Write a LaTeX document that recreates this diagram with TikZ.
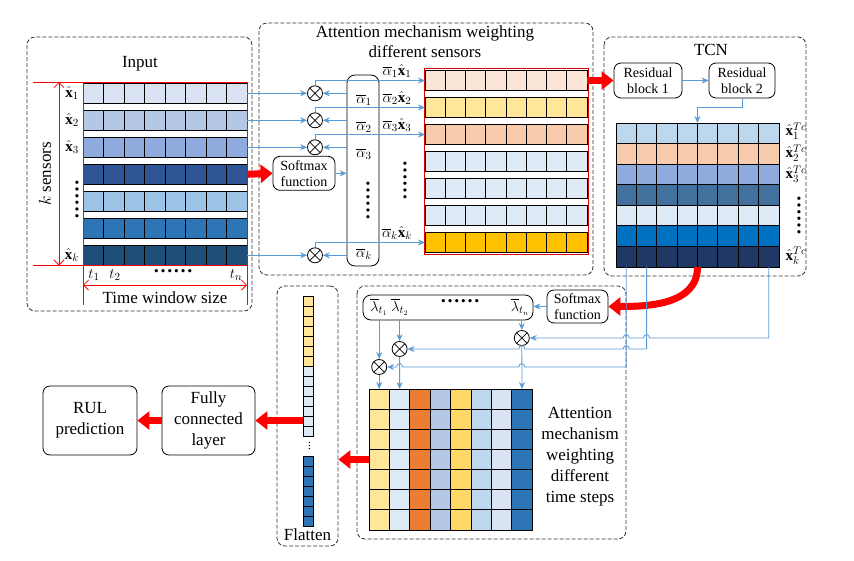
\documentclass[tikz,border=0pt]{standalone}
\usepackage{amsmath}
\usepackage{fontspec}
\setmainfont{Liberation Serif}
\usetikzlibrary{arrows.meta}

\definecolor{lineblue}{HTML}{5B9BD5}
\definecolor{arrred}{HTML}{FF0000}
\definecolor{inA}{HTML}{DAE3F3}
\definecolor{inB}{HTML}{B4C7E7}
\definecolor{inC}{HTML}{8FAADC}
\definecolor{inD}{HTML}{2F5597}
\definecolor{inE}{HTML}{9DC3E6}
\definecolor{inF}{HTML}{2E75B6}
\definecolor{inG}{HTML}{1F4E79}
\definecolor{wA}{HTML}{FBE5D6}
\definecolor{wB}{HTML}{FFE699}
\definecolor{wC}{HTML}{F8CBAD}
\definecolor{wD}{HTML}{DEEBF7}
\definecolor{wG}{HTML}{FFC000}
\definecolor{tA}{HTML}{BDD7EE}
\definecolor{tB}{HTML}{F8CBAD}
\definecolor{tC}{HTML}{8FAADC}
\definecolor{tD}{HTML}{41719C}
\definecolor{tE}{HTML}{DEEBF7}
\definecolor{tF}{HTML}{0070C0}
\definecolor{tG}{HTML}{203864}
\definecolor{cA}{HTML}{FFE699}
\definecolor{cB}{HTML}{DEEBF7}
\definecolor{cC}{HTML}{ED7D31}
\definecolor{cD}{HTML}{B4C7E7}
\definecolor{cE}{HTML}{FFD966}
\definecolor{cF}{HTML}{BDD7EE}
\definecolor{cG}{HTML}{DAE3F3}
\definecolor{cH}{HTML}{2E75B6}

\tikzset{
  grp/.style={draw=black!80, dash pattern=on 4pt off 2pt, rounded corners=8pt, line width=0.8pt},
  blk/.style={draw, rounded corners=7pt, align=center, inner sep=2pt, line width=0.8pt},
  smallblk/.style={blk, font=\fontsize{14}{16}\selectfont},
  cellrow/.style={draw, inner sep=0pt, outer sep=0pt, minimum height=20pt, line width=0.8pt},
  cellln/.style={line width=0.8pt},
  mult/.style={circle, draw, inner sep=0pt, minimum size=15pt, line width=0.8pt,
    path picture={\draw[line width=0.7pt] (path picture bounding box.south west) -- (path picture bounding box.north east)
      (path picture bounding box.north west) -- (path picture bounding box.south east);}},
  lbl/.style={font=\fontsize{15}{16}\selectfont, inner sep=0pt},
  dotlbl/.style={font=\fontsize{20}{20}\selectfont\bfseries, inner sep=0pt},
  bluearr/.style={draw=lineblue, line width=0.8pt, -{Stealth[length=7pt,width=6pt]}},
  redarr/.style={draw=arrred, line width=7pt, -{Triangle[length=12pt,width=18pt]}},
  redln/.style={draw=arrred, line width=0.8pt},
}

\begin{document}
\begin{tikzpicture}[x=1pt, y=-1pt, font=\fontsize{17}{20}\selectfont]
  \useasboundingbox (0,0) rectangle (854,560);

  % input window
  \draw[grp] (27,37) rectangle (252,311);
  \node (inputlbl) at (140,64) {Input};
  \foreach \col [count=\r] in {inA,inB,inC,inD,inE,inF,inG} {
    \pgfmathsetmacro{\yc}{93.3+27*(\r-1)}
    \node[cellrow, fill=\col, minimum width=164pt] (in\r) at (165,\yc) {};
    \foreach \k in {1,...,7}
      \draw[cellln] (83+20.5*\k,\yc-10) -- (83+20.5*\k,\yc+10);
  }
  \draw[redln] (33,82) -- (248,82);
  \draw[redln] (33,265.5) -- (248,265.5);
  \draw[redln] (83,82) -- (83,305);
  \draw[redln] (247,82) -- (247,305);
  \draw[redln, {Straight Barb[length=5pt]}-{Straight Barb[length=5pt]}] (59,82) -- (59,265.5);
  \draw[redln, {Straight Barb[length=5pt]}-{Straight Barb[length=5pt]}] (83,285) -- (247,285);
  \node[rotate=90] (ksens) at (45,174) {$k$ sensors};
  \node (twin) at (165,298) {Time window size};
  \node[lbl] (xh1) at (72,93) {$\hat{\mathbf{x}}_1$};
  \node[lbl] (xh2) at (72,120) {$\hat{\mathbf{x}}_2$};
  \node[lbl] (xh3) at (72,147) {$\hat{\mathbf{x}}_3$};
  \node[dotlbl, rotate=90] (xhdots) at (77,199) {……};
  \node[lbl] (xhk) at (72,255) {$\hat{\mathbf{x}}_k$};
  \node[lbl] (t1) at (94,275) {$t_1$};
  \node[lbl] (t2) at (115,275) {$t_2$};
  \node[dotlbl] (tdots) at (173,271) {……};
  \node[lbl] (tn) at (236,275) {$t_n$};

  % attention over sensors
  \draw[grp] (259,23) rectangle (593,275);
  \node[align=center] (att1lbl) at (425,42) {Attention mechanism weighting\\different sensors};
  \node[mult] (m1) at (315,93.3) {};
  \node[mult] (m2) at (315,120.3) {};
  \node[mult] (m3) at (315,147.3) {};
  \node[mult] (mk) at (315,255.3) {};
  \node[draw, rounded corners=8pt, minimum width=32pt, minimum height=191pt, line width=0.8pt] (abox) at (363,170.5) {};
  \node[lbl] (a1) at (364,100) {$\overline{\alpha}_1$};
  \node[lbl] (a2) at (364,127) {$\overline{\alpha}_2$};
  \node[lbl] (a3) at (364,154) {$\overline{\alpha}_3$};
  \node[dotlbl, rotate=90] (adots) at (368,200) {……};
  \node[lbl] (ak) at (364,254) {$\overline{\alpha}_k$};
  \node[smallblk, minimum width=62pt, minimum height=34pt] (sm1) at (304,173.3) {Softmax\\function};
  \foreach \r/\m in {1/m1,2/m2,3/m3,7/mk} {
    \draw[bluearr] (in\r.east) -- (\m.west);
    \draw[bluearr] (\m -| abox.west) -- (\m.east);
  }
  \draw[redarr] (in4.east) -- (sm1.west);
  \draw[bluearr] (sm1.east) -- (sm1.east -| abox.west);
  \foreach \col [count=\r] in {wA,wB,wC,wD,wD,wD,wG} {
    \pgfmathsetmacro{\yc}{80.5+27*(\r-1)}
    \node[cellrow, fill=\col, minimum width=162pt] (w\r) at (506,\yc) {};
    \foreach \k in {1,...,7}
      \draw[cellln] (425+20.25*\k,\yc-10) -- (425+20.25*\k,\yc+10);
  }
  \draw[red!85!black, line width=1pt] (424,68) rectangle (588,254);
  \foreach \m/\r in {m1/1,m2/2,m3/3,mk/7}
    \draw[bluearr] (\m.north) |- (w\r.west);
  \node[lbl] (aw1) at (397,71) {$\overline{\alpha}_1\hat{\mathbf{x}}_1$};
  \node[lbl] (aw2) at (397,98) {$\overline{\alpha}_2\hat{\mathbf{x}}_2$};
  \node[lbl] (aw3) at (397,125) {$\overline{\alpha}_3\hat{\mathbf{x}}_3$};
  \node[dotlbl, rotate=90] (awdots) at (405,180) {……};
  \node[lbl] (awk) at (397,233) {$\overline{\alpha}_k\hat{\mathbf{x}}_k$};

  % TCN
  \draw[grp] (604,37) rectangle (806,276);
  \node (tcnlbl) at (711,50) {TCN};
  \node[smallblk, minimum width=68pt, minimum height=35pt] (res1) at (648,80.5) {Residual\\block 1};
  \node[smallblk, minimum width=66pt, minimum height=35pt] (res2) at (742,80.5) {Residual\\block 2};
  \draw[redarr] (w1.east) -- (res1.west);
  \draw[bluearr] (res1.east) -- (res2.west);
  \foreach \col [count=\r] in {tA,tB,tC,tD,tE,tF,tG} {
    \pgfmathsetmacro{\yc}{133.3+20.57*(\r-1)}
    \node[cellrow, fill=\col, minimum width=163pt, minimum height=20.57pt] (tc\r) at (697.5,\yc) {};
    \foreach \k in {1,...,7}
      \draw[cellln] (616+20.375*\k,\yc-10.28) -- (616+20.375*\k,\yc+10.28);
  }
  \draw[bluearr] (res2.south) -- ++(0,9) -| (tc1.north);
  \node[lbl] (xt1) at (796,131) {$\hat{\mathbf{x}}_1^{Tc}$};
  \node[lbl] (xt2) at (796,153) {$\hat{\mathbf{x}}_2^{Tc}$};
  \node[lbl] (xt3) at (796,174) {$\hat{\mathbf{x}}_3^{Tc}$};
  \node[dotlbl, rotate=90] (xtdots) at (799,215) {……};
  \node[lbl] (xtk) at (796,256) {$\hat{\mathbf{x}}_k^{Tc}$};
  \coordinate (tb1) at (626.2,267);
  \coordinate (tb2) at (646.6,267);
  \coordinate (tb8) at (768.8,267);

  % attention over time steps
  \draw[grp] (357,286) rectangle (626,539);
  \node[draw, rounded corners=8pt, minimum width=170pt, minimum height=25pt, line width=0.8pt] (lbox) at (448,307.5) {};
  \node[lbl] (l1) at (379,307) {$\overline{\lambda}_{t_1}$};
  \node[lbl] (l2) at (400,307) {$\overline{\lambda}_{t_2}$};
  \node[dotlbl] (ldots) at (460,301) {……};
  \node[lbl] (ln) at (520,307) {$\overline{\lambda}_{t_n}$};
  \node[smallblk, minimum width=61pt, minimum height=33pt] (sm2) at (577.5,306.5) {Softmax\\function};
  \draw[redarr] (tb2 -| tc4.south) to[out=-90, in=0] (sm2.east);
  \draw[bluearr] (sm2.west) -- (sm2.west -| lbox.east);
  \node[mult] (q1) at (379.2,367) {};
  \node[mult] (q2) at (399.6,349) {};
  \node[mult] (qn) at (521.8,338) {};
  \foreach \col [count=\c] in {cA,cB,cC,cD,cE,cF,cG,cH}
    \node[cellrow, fill=\col, minimum width=20.4pt, minimum height=141pt] (col\c) at (369+20.4*\c-10.2,459.5) {};
  \foreach \k in {1,...,6}
    \draw[cellln] (369,389+20.14*\k) -- (532,389+20.14*\k);
  \foreach \q/\c in {q1/1,q2/2,qn/8} {
    \draw[bluearr] (\q |- lbox.south) -- (\q.north);
    \draw[bluearr] (\q.south) -- (col\c.north);
  }
  \draw[bluearr] (tb8) -- (768.8,338) -- (649.6,338) .. controls (649.6,333.5) and (643.6,333.5) .. (643.6,338)
    -- (629.2,338) .. controls (629.2,333.5) and (623.2,333.5) .. (623.2,338) -- (qn.east);
  \draw[bluearr] (tb2) -- (646.6,349) -- (629.2,349) .. controls (629.2,344.5) and (623.2,344.5) .. (623.2,349)
    -- (524.8,349) .. controls (524.8,344.5) and (518.8,344.5) .. (518.8,349) -- (q2.east);
  \draw[bluearr] (tb1) -- (626.2,367) -- (524.8,367) .. controls (524.8,362.5) and (518.8,362.5) .. (518.8,367)
    -- (402.6,367) .. controls (402.6,362.5) and (396.6,362.5) .. (396.6,367) -- (q1.east);
  \node[align=center, font=\fontsize{17}{21}\selectfont] (att2lbl) at (580,457) {Attention\\mechanism\\weighting\\different\\time steps};

  % flatten and output
  \node[grp, minimum width=61pt, minimum height=260pt] (flat) at (307.5,416) {};
  \node (flatlbl) at (307.5,535) {Flatten};
  \node[cellrow, fill=cA, minimum width=10pt, minimum height=70pt] (fl1) at (308,331) {};
  \node[cellrow, fill=cB, minimum width=10pt, minimum height=70pt] (fl2) at (308,401) {};
  \node[cellrow, fill=cH, minimum width=10pt, minimum height=70pt] (fl3) at (308,491) {};
  \foreach \k in {1,...,6} {
    \draw[cellln] (303,296+10*\k) -- (313,296+10*\k);
    \draw[cellln] (303,366+10*\k) -- (313,366+10*\k);
    \draw[cellln] (303,456+10*\k) -- (313,456+10*\k);
  }
  \node[rotate=90, font=\fontsize{9}{9}\selectfont\bfseries, inner sep=0pt] (fldots) at (309.5,446) {…};
  \draw[redarr] (col1.west) -- (col1.west -| flat.east);
  \node[blk, minimum width=93pt, minimum height=69pt, font=\fontsize{17}{21}\selectfont] (fc) at (208.5,420.5) {Fully\\connected\\layer};
  \node[blk, minimum width=94pt, minimum height=69pt, font=\fontsize{17}{21}\selectfont] (rul) at (90,420.5) {RUL\\prediction};
  \draw[redarr] (fl2.west |- fc.east) -- (fc.east);
  \draw[redarr] (fc.west) -- (rul.east);
\end{tikzpicture}
\end{document}
